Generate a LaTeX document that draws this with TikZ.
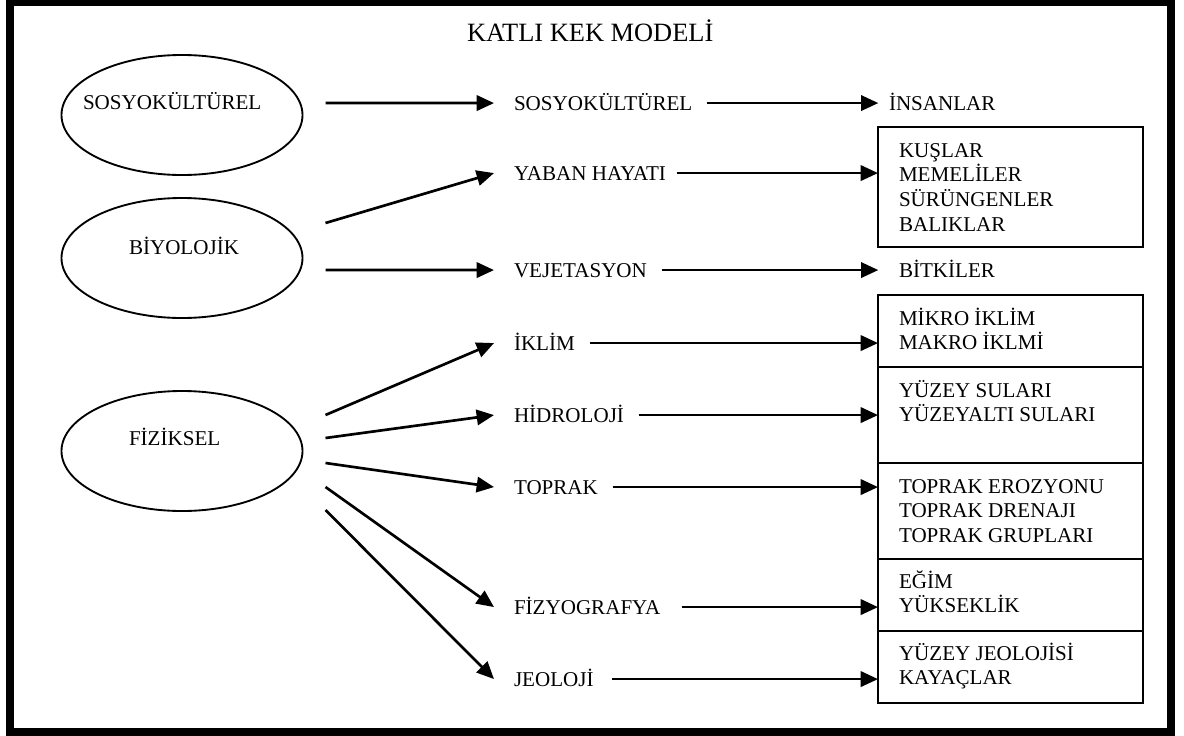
\documentclass[tikz,border=0pt]{standalone}
\usepackage{fontspec}
\setmainfont{Liberation Serif}
\usetikzlibrary{arrows.meta,calc,fit,shapes.geometric}
\begin{document}
\begin{tikzpicture}[x=0.75pt,y=-0.75pt,
  every node/.style={inner sep=0pt, outer sep=0pt},
  lbl/.style={font=\fontsize{15.8}{18.5}\selectfont, text height=10.4pt, text depth=0pt, anchor=base west},
  boxtxt/.style={font=\fontsize{15.8}{18.6}\selectfont, anchor=base west},
  ell/.style={draw, ellipse, line width=1.4pt, minimum width=180.75pt, minimum height=90pt},
  box/.style={draw, line width=1.3pt, inner sep=0pt},
  arr/.style={line width=2pt, -{Triangle[length=13pt,width=11.5pt]}}
]
\useasboundingbox (0,0) rectangle (1184,735);
\draw[line width=6pt] (10,2) rectangle (1171,732);

% title
\node[anchor=base west, font=\fontsize{19.8}{23}\selectfont] (title) at (467,42) {KATLI KEK MODELİ};

% ellipses
\node[ell] (sos) at (182,115) {};
\node[ell] (bio) at (182,258) {};
\node[ell] (fiz) at (182,451) {};
\node[lbl] (sost) at (83,109) {SOSYOKÜLTÜREL};
\node[lbl] (biot) at (129,254) {BİYOLOJİK};
\node[lbl] (fizt) at (129,445) {FİZİKSEL};

% middle column
\node[lbl] (msos) at (514,110) {SOSYOKÜLTÜREL};
\node[lbl] (myab) at (514,180) {YABAN HAYATI};
\node[lbl] (mvej) at (514,277) {VEJETASYON};
\node[lbl] (mikl) at (514,350) {İKLİM};
\node[lbl] (mhid) at (514,422) {HİDROLOJİ};
\node[lbl] (mtop) at (514,494) {TOPRAK};
\node[lbl] (mfiz) at (514,614) {FİZYOGRAFYA};
\node[lbl] (mjeo) at (514,686) {JEOLOJİ};

% right column
\node[lbl] (rins) at (889,110) {İNSANLAR};
\node[lbl] (rbit) at (899,277) {BİTKİLER};

\node[box, fit={(878,127)(1143,247)}] (b1) {};
\node[box, fit={(878,295)(1143,367)}] (b2) {};
\node[box, fit={(878,367)(1143,463)}] (b3) {};
\node[box, fit={(878,463)(1143,559)}] (b4) {};
\node[box, fit={(878,559)(1143,631)}] (b5) {};
\node[box, fit={(878,631)(1143,703)}] (b6) {};

\node[boxtxt] (t1) at (899,157) {\begin{tabular}[t]{@{}l@{}}KUŞLAR\\ MEMELİLER\\ SÜRÜNGENLER\\ BALIKLAR\end{tabular}};
\node[boxtxt] (t2) at (899,325) {\begin{tabular}[t]{@{}l@{}}MİKRO İKLİM\\ MAKRO İKLMİ\end{tabular}};
\node[boxtxt] (t3) at (899,397) {\begin{tabular}[t]{@{}l@{}}YÜZEY SULARI\\ YÜZEYALTI SULARI\end{tabular}};
\node[boxtxt] (t4) at (899,493) {\begin{tabular}[t]{@{}l@{}}TOPRAK EROZYONU\\ TOPRAK DRENAJI\\ TOPRAK GRUPLARI\end{tabular}};
\node[boxtxt] (t5) at (899,588) {\begin{tabular}[t]{@{}l@{}}EĞİM\\ YÜKSEKLİK\end{tabular}};
\node[boxtxt] (t6) at (899,660) {\begin{tabular}[t]{@{}l@{}}YÜZEY JEOLOJİSİ\\ KAYAÇLAR\end{tabular}};

% left arrows
\draw[arr] ($(sos.east)+(23,-12)$) -- ([xshift=-15pt]msos.west);
\draw[arr] ($(bio.east)+(23,-35)$) -- ([xshift=-15pt]myab.west);
\draw[arr] ($(bio.east)+(23,12)$) -- ([xshift=-15pt]mvej.west);
\draw[arr] ($(fiz.east)+(23,-36)$) -- ([xshift=-15pt]mikl.west);
\draw[arr] ($(fiz.east)+(23,-13)$) -- ([xshift=-15pt]mhid.west);
\draw[arr] ($(fiz.east)+(23,12)$) -- ([xshift=-15pt]mtop.west);
\draw[arr] ($(fiz.east)+(23,36)$) -- ([xshift=-15pt]mfiz.west);
\draw[arr] ($(fiz.east)+(23,59)$) -- ([xshift=-15pt]mjeo.west);

% right arrows
\draw[arr] ([xshift=11pt]msos.east) -- ([xshift=-8pt]rins.west);
\draw[arr] ([xshift=8pt]myab.east) -- (myab.east -| b1.west);
\draw[arr] ([xshift=11pt]mvej.east) -- ([xshift=-15.5pt]rbit.west);
\draw[arr] ([xshift=11pt]mikl.east) -- (mikl.east -| b2.west);
\draw[arr] ([xshift=11pt]mhid.east) -- (mhid.east -| b3.west);
\draw[arr] ([xshift=11pt]mtop.east) -- (mtop.east -| b4.west);
\draw[arr] ([xshift=16pt]mfiz.east) -- (mfiz.east -| b5.west);
\draw[arr] ([xshift=14pt]mjeo.east) -- (mjeo.east -| b6.west);
\end{tikzpicture}
\end{document}
